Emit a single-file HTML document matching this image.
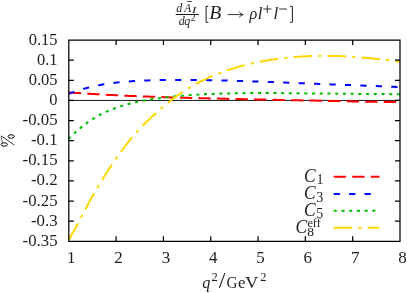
<!DOCTYPE html>
<html><head><meta charset="utf-8"><title>plot</title>
<style>html,body{margin:0;padding:0;background:#fff;}body{width:407px;height:293px;overflow:hidden;font-family:"Liberation Serif",serif;}</style>
</head><body>
<svg width="407" height="293" viewBox="0 0 407 293" style="display:block">
<rect width="407" height="293" fill="#fff"/>
<path d="M68.8,100.44 H400.0" stroke="#000" stroke-width="0.9" fill="none"/>
<path d="M69.1,92.4 L71.2,92.5 L73.3,92.7 L75.3,92.9 L77.4,93.0 L79.5,93.1 L81.6,93.3 L83.7,93.4 L85.7,93.6 L87.8,93.7 L89.9,93.8 L92.0,94.0 L94.1,94.1 L96.2,94.2 L98.2,94.3 L100.3,94.4 L102.4,94.6 L104.5,94.7 L106.6,94.8 L108.6,94.9 L110.7,95.0 L112.8,95.1 L114.9,95.2 L117.0,95.3 L119.0,95.4 L121.1,95.5 L123.2,95.6 L125.3,95.7 L127.4,95.8 L129.5,95.9 L131.5,96.0 L133.6,96.1 L135.7,96.1 L137.8,96.2 L139.9,96.3 L141.9,96.4 L144.0,96.5 L146.1,96.5 L148.2,96.6 L150.3,96.7 L152.3,96.8 L154.4,96.8 L156.5,96.9 L158.6,97.0 L160.7,97.0 L162.8,97.1 L164.8,97.2 L166.9,97.2 L169.0,97.3 L171.1,97.4 L173.2,97.4 L175.2,97.5 L177.3,97.6 L179.4,97.6 L181.5,97.7 L183.6,97.7 L185.6,97.8 L187.7,97.8 L189.8,97.9 L191.9,98.0 L194.0,98.0 L196.0,98.1 L198.1,98.1 L200.2,98.2 L202.3,98.2 L204.4,98.3 L206.5,98.3 L208.5,98.4 L210.6,98.4 L212.7,98.5 L214.8,98.5 L216.9,98.6 L218.9,98.6 L221.0,98.7 L223.1,98.7 L225.2,98.8 L227.3,98.8 L229.3,98.9 L231.4,98.9 L233.5,98.9 L235.6,99.0 L237.7,99.0 L239.8,99.1 L241.8,99.1 L243.9,99.2 L246.0,99.2 L248.1,99.3 L250.2,99.3 L252.2,99.4 L254.3,99.4 L256.4,99.4 L258.5,99.5 L260.6,99.5 L262.6,99.6 L264.7,99.6 L266.8,99.7 L268.9,99.7 L271.0,99.7 L273.1,99.8 L275.1,99.8 L277.2,99.9 L279.3,99.9 L281.4,100.0 L283.5,100.0 L285.5,100.0 L287.6,100.1 L289.7,100.1 L291.8,100.2 L293.9,100.2 L295.9,100.3 L298.0,100.3 L300.1,100.3 L302.2,100.4 L304.3,100.4 L306.3,100.5 L308.4,100.5 L310.5,100.6 L312.6,100.6 L314.7,100.6 L316.8,100.7 L318.8,100.7 L320.9,100.8 L323.0,100.8 L325.1,100.9 L327.2,100.9 L329.2,100.9 L331.3,101.0 L333.4,101.0 L335.5,101.1 L337.6,101.1 L339.6,101.1 L341.7,101.2 L343.8,101.2 L345.9,101.3 L348.0,101.3 L350.1,101.3 L352.1,101.4 L354.2,101.4 L356.3,101.5 L358.4,101.5 L360.5,101.5 L362.5,101.6 L364.6,101.6 L366.7,101.7 L368.8,101.7 L370.9,101.7 L372.9,101.8 L375.0,101.8 L377.1,101.8 L379.2,101.9 L381.3,101.9 L383.4,101.9 L385.4,102.0 L387.5,102.0 L389.6,102.0 L391.7,102.1 L393.8,102.1 L395.8,102.1 L397.9,102.2 L400.0,102.2" stroke="#ff0000" stroke-width="2" stroke-dasharray="12.36 6.18" stroke-dashoffset="0.3" fill="none"/>
<path d="M69.1,93.7 L71.2,92.9 L73.3,92.2 L75.3,91.4 L77.4,90.7 L79.5,90.1 L81.6,89.5 L83.7,88.9 L85.7,88.3 L87.8,87.7 L89.9,87.2 L92.0,86.7 L94.1,86.3 L96.2,85.8 L98.2,85.4 L100.3,85.0 L102.4,84.6 L104.5,84.3 L106.6,84.0 L108.6,83.6 L110.7,83.3 L112.8,83.1 L114.9,82.8 L117.0,82.6 L119.0,82.3 L121.1,82.1 L123.2,81.9 L125.3,81.7 L127.4,81.5 L129.5,81.4 L131.5,81.2 L133.6,81.1 L135.7,81.0 L137.8,80.8 L139.9,80.7 L141.9,80.6 L144.0,80.5 L146.1,80.4 L148.2,80.4 L150.3,80.3 L152.3,80.2 L154.4,80.2 L156.5,80.1 L158.6,80.1 L160.7,80.0 L162.8,80.0 L164.8,80.0 L166.9,79.9 L169.0,79.9 L171.1,79.9 L173.2,79.9 L175.2,79.9 L177.3,79.9 L179.4,79.9 L181.5,79.9 L183.6,79.9 L185.6,79.9 L187.7,79.9 L189.8,79.9 L191.9,79.9 L194.0,80.0 L196.0,80.0 L198.1,80.0 L200.2,80.0 L202.3,80.1 L204.4,80.1 L206.5,80.1 L208.5,80.2 L210.6,80.2 L212.7,80.3 L214.8,80.3 L216.9,80.3 L218.9,80.4 L221.0,80.4 L223.1,80.5 L225.2,80.6 L227.3,80.6 L229.3,80.7 L231.4,80.7 L233.5,80.8 L235.6,80.8 L237.7,80.9 L239.8,81.0 L241.8,81.0 L243.9,81.1 L246.0,81.2 L248.1,81.2 L250.2,81.3 L252.2,81.4 L254.3,81.5 L256.4,81.5 L258.5,81.6 L260.6,81.7 L262.6,81.8 L264.7,81.8 L266.8,81.9 L268.9,82.0 L271.0,82.1 L273.1,82.1 L275.1,82.2 L277.2,82.3 L279.3,82.4 L281.4,82.5 L283.5,82.5 L285.5,82.6 L287.6,82.7 L289.7,82.8 L291.8,82.9 L293.9,82.9 L295.9,83.0 L298.0,83.1 L300.1,83.2 L302.2,83.3 L304.3,83.3 L306.3,83.4 L308.4,83.5 L310.5,83.6 L312.6,83.7 L314.7,83.7 L316.8,83.8 L318.8,83.9 L320.9,84.0 L323.0,84.1 L325.1,84.2 L327.2,84.2 L329.2,84.3 L331.3,84.4 L333.4,84.5 L335.5,84.6 L337.6,84.6 L339.6,84.7 L341.7,84.8 L343.8,84.9 L345.9,85.0 L348.0,85.0 L350.1,85.1 L352.1,85.2 L354.2,85.3 L356.3,85.4 L358.4,85.4 L360.5,85.5 L362.5,85.6 L364.6,85.7 L366.7,85.7 L368.8,85.8 L370.9,85.9 L372.9,86.0 L375.0,86.1 L377.1,86.1 L379.2,86.2 L381.3,86.3 L383.4,86.4 L385.4,86.5 L387.5,86.5 L389.6,86.6 L391.7,86.7 L393.8,86.8 L395.8,86.9 L397.9,86.9 L400.0,87.0" stroke="#0000ff" stroke-width="2" stroke-dasharray="6.18 9.27" stroke-dashoffset="0.6" fill="none"/>
<path d="M69.1,138.6 L71.2,136.4 L73.3,134.4 L75.3,132.4 L77.4,130.5 L79.5,128.7 L81.6,126.9 L83.7,125.3 L85.7,123.7 L87.8,122.2 L89.9,120.8 L92.0,119.5 L94.1,118.2 L96.2,117.0 L98.2,115.8 L100.3,114.7 L102.4,113.6 L104.5,112.6 L106.6,111.6 L108.6,110.7 L110.7,109.9 L112.8,109.0 L114.9,108.3 L117.0,107.5 L119.0,106.8 L121.1,106.1 L123.2,105.5 L125.3,104.9 L127.4,104.3 L129.5,103.7 L131.5,103.2 L133.6,102.7 L135.7,102.2 L137.8,101.8 L139.9,101.3 L141.9,100.9 L144.0,100.5 L146.1,100.1 L148.2,99.8 L150.3,99.4 L152.3,99.1 L154.4,98.8 L156.5,98.5 L158.6,98.2 L160.7,97.9 L162.8,97.7 L164.8,97.4 L166.9,97.2 L169.0,96.9 L171.1,96.7 L173.2,96.5 L175.2,96.3 L177.3,96.1 L179.4,95.9 L181.5,95.7 L183.6,95.6 L185.6,95.4 L187.7,95.2 L189.8,95.1 L191.9,94.9 L194.0,94.8 L196.0,94.7 L198.1,94.6 L200.2,94.4 L202.3,94.3 L204.4,94.2 L206.5,94.1 L208.5,94.0 L210.6,94.0 L212.7,93.9 L214.8,93.8 L216.9,93.7 L218.9,93.7 L221.0,93.6 L223.1,93.5 L225.2,93.5 L227.3,93.4 L229.3,93.4 L231.4,93.3 L233.5,93.3 L235.6,93.3 L237.7,93.2 L239.8,93.2 L241.8,93.2 L243.9,93.2 L246.0,93.1 L248.1,93.1 L250.2,93.1 L252.2,93.1 L254.3,93.1 L256.4,93.1 L258.5,93.1 L260.6,93.1 L262.6,93.1 L264.7,93.1 L266.8,93.1 L268.9,93.1 L271.0,93.1 L273.1,93.1 L275.1,93.1 L277.2,93.1 L279.3,93.1 L281.4,93.1 L283.5,93.2 L285.5,93.2 L287.6,93.2 L289.7,93.2 L291.8,93.2 L293.9,93.2 L295.9,93.3 L298.0,93.3 L300.1,93.3 L302.2,93.3 L304.3,93.3 L306.3,93.4 L308.4,93.4 L310.5,93.4 L312.6,93.4 L314.7,93.4 L316.8,93.5 L318.8,93.5 L320.9,93.5 L323.0,93.5 L325.1,93.5 L327.2,93.6 L329.2,93.6 L331.3,93.6 L333.4,93.6 L335.5,93.6 L337.6,93.7 L339.6,93.7 L341.7,93.7 L343.8,93.7 L345.9,93.7 L348.0,93.8 L350.1,93.8 L352.1,93.8 L354.2,93.8 L356.3,93.8 L358.4,93.9 L360.5,93.9 L362.5,93.9 L364.6,93.9 L366.7,93.9 L368.8,93.9 L370.9,94.0 L372.9,94.0 L375.0,94.0 L377.1,94.0 L379.2,94.0 L381.3,94.1 L383.4,94.1 L385.4,94.1 L387.5,94.1 L389.6,94.1 L391.7,94.2 L393.8,94.2 L395.8,94.2 L397.9,94.2 L400.0,94.3" stroke="#00c000" stroke-width="2" stroke-dasharray="3.09 4.63" stroke-dashoffset="0.7" fill="none"/>
<path d="M68.5,241.3 L70.6,236.5 L72.7,232.8 L74.8,229.3 L76.8,225.6 L78.9,221.6 L81.0,217.6 L83.1,213.5 L85.2,209.6 L87.3,205.7 L89.3,201.9 L91.4,198.1 L93.5,194.4 L95.6,190.8 L97.7,187.3 L99.8,183.8 L101.9,180.4 L103.9,177.0 L106.0,173.7 L108.1,170.4 L110.2,167.2 L112.3,164.1 L114.4,161.0 L116.5,158.0 L118.5,155.0 L120.6,152.1 L122.7,149.3 L124.8,146.5 L126.9,143.8 L129.0,141.2 L131.0,138.7 L133.1,136.2 L135.2,133.8 L137.3,131.5 L139.4,129.2 L141.5,127.0 L143.6,124.8 L145.6,122.7 L147.7,120.7 L149.8,118.7 L151.9,116.7 L154.0,114.8 L156.1,112.9 L158.2,111.0 L160.2,109.1 L162.3,107.3 L164.4,105.6 L166.5,103.8 L168.6,102.2 L170.7,100.5 L172.7,98.9 L174.8,97.4 L176.9,95.9 L179.0,94.4 L181.1,93.0 L183.2,91.6 L185.3,90.2 L187.3,88.9 L189.4,87.7 L191.5,86.5 L193.6,85.3 L195.7,84.1 L197.8,83.0 L199.8,81.9 L201.9,80.8 L204.0,79.8 L206.1,78.8 L208.2,77.9 L210.3,76.9 L212.4,76.0 L214.4,75.1 L216.5,74.3 L218.6,73.5 L220.7,72.7 L222.8,71.9 L224.9,71.1 L227.0,70.4 L229.0,69.7 L231.1,69.0 L233.2,68.4 L235.3,67.7 L237.4,67.1 L239.5,66.5 L241.5,66.0 L243.6,65.4 L245.7,64.9 L247.8,64.4 L249.9,63.9 L252.0,63.4 L254.1,62.9 L256.1,62.5 L258.2,62.1 L260.3,61.7 L262.4,61.3 L264.5,60.9 L266.6,60.5 L268.7,60.2 L270.7,59.8 L272.8,59.5 L274.9,59.2 L277.0,58.9 L279.1,58.7 L281.2,58.4 L283.2,58.2 L285.3,57.9 L287.4,57.7 L289.5,57.5 L291.6,57.3 L293.7,57.1 L295.8,56.9 L297.8,56.8 L299.9,56.6 L302.0,56.5 L304.1,56.4 L306.2,56.3 L308.3,56.2 L310.3,56.1 L312.4,56.0 L314.5,55.9 L316.6,55.9 L318.7,55.9 L320.8,55.8 L322.9,55.8 L324.9,55.8 L327.0,55.8 L329.1,55.8 L331.2,55.9 L333.3,55.9 L335.4,55.9 L337.5,56.0 L339.5,56.1 L341.6,56.2 L343.7,56.3 L345.8,56.4 L347.9,56.5 L350.0,56.6 L352.0,56.7 L354.1,56.9 L356.2,57.0 L358.3,57.2 L360.4,57.3 L362.5,57.5 L364.6,57.7 L366.6,57.9 L368.7,58.1 L370.8,58.3 L372.9,58.5 L375.0,58.7 L377.1,58.9 L379.2,59.2 L381.2,59.4 L383.3,59.6 L385.4,59.9 L387.5,60.1 L389.6,60.4 L391.7,60.6 L393.7,60.9 L395.8,61.1 L397.9,61.4 L400.0,61.6" stroke="#ffd700" stroke-width="2" stroke-dasharray="18.54 6.18 3.09 6.18" stroke-dashoffset="-1.9" fill="none"/>
<path d="M68.8,40.05 H400.0 V241.35 H68.8 Z M68.8,60.18 h5.0 M400.0,60.18 h-5.0 M68.8,80.31 h5.0 M400.0,80.31 h-5.0 M68.8,100.44 h5.0 M400.0,100.44 h-5.0 M68.8,120.57 h5.0 M400.0,120.57 h-5.0 M68.8,140.70 h5.0 M400.0,140.70 h-5.0 M68.8,160.83 h5.0 M400.0,160.83 h-5.0 M68.8,180.96 h5.0 M400.0,180.96 h-5.0 M68.8,201.09 h5.0 M400.0,201.09 h-5.0 M68.8,221.22 h5.0 M400.0,221.22 h-5.0 M116.11,241.35 v-5.0 M116.11,40.05 v5.0 M163.43,241.35 v-5.0 M163.43,40.05 v5.0 M210.74,241.35 v-5.0 M210.74,40.05 v5.0 M258.06,241.35 v-5.0 M258.06,40.05 v5.0 M305.37,241.35 v-5.0 M305.37,40.05 v5.0 M352.69,241.35 v-5.0 M352.69,40.05 v5.0" stroke="#000" stroke-width="1.25" fill="none" stroke-linejoin="miter"/>
<g font-family="Liberation Serif, serif" font-size="17" fill="#1e1e1e" opacity="0.999">
<text transform="translate(28.74,44.55) scale(0.9700,1.0000)" font-size="17">0.15</text>
<text transform="translate(36.99,64.68) scale(0.9700,1.0000)" font-size="17">0.1</text>
<text transform="translate(28.74,84.81) scale(0.9700,1.0000)" font-size="17">0.05</text>
<text transform="translate(49.36,104.94) scale(0.9700,1.0000)" font-size="17">0</text>
<text transform="translate(22.54,125.07) scale(0.9900,1.0000)" font-size="17">-0.05</text>
<text transform="translate(30.96,145.20) scale(0.9900,1.0000)" font-size="17">-0.1</text>
<text transform="translate(22.54,165.33) scale(0.9900,1.0000)" font-size="17">-0.15</text>
<text transform="translate(30.96,185.46) scale(0.9900,1.0000)" font-size="17">-0.2</text>
<text transform="translate(22.54,205.59) scale(0.9900,1.0000)" font-size="17">-0.25</text>
<text transform="translate(30.96,225.72) scale(0.9900,1.0000)" font-size="17">-0.3</text>
<text transform="translate(22.54,245.85) scale(0.9900,1.0000)" font-size="17">-0.35</text>
<text x="67.05" y="263.20" font-size="17">1</text>
<text x="114.36" y="263.20" font-size="17">2</text>
<text x="161.68" y="263.20" font-size="17">3</text>
<text x="208.99" y="263.20" font-size="17">4</text>
<text x="256.31" y="263.20" font-size="17">5</text>
<text x="303.62" y="263.20" font-size="17">6</text>
<text x="350.94" y="263.20" font-size="17">7</text>
<text x="398.25" y="263.20" font-size="17">8</text>
<text transform="translate(202.20,287.60) scale(0.9529,1.0000)" font-size="17" font-style="italic">q</text>
<text x="211.60" y="280.60" font-size="12.5">2</text>
<text transform="translate(218.70,287.60) scale(1.4177,1.3389)" font-size="17">/</text>
<text transform="translate(226.50,287.60) scale(0.8962,1.0000)" font-size="17">G</text>
<text x="238.00" y="287.60" font-size="17">e</text>
<text transform="translate(245.30,287.60) scale(1.0591,1.0000)" font-size="17">V</text>
<text x="260.30" y="280.60" font-size="12.5">2</text>
<g stroke="#000" fill="none"><ellipse cx="11.2" cy="136.5" rx="3.1" ry="1.75" stroke-width="1.0"/><ellipse cx="4.3" cy="144.5" rx="3.1" ry="1.75" stroke-width="1.0"/><path d="M1.1,135.8 L14.3,145" stroke-width="0.8"/><path d="M1.2,136 Q1.6,140 2.4,142.9" stroke-width="0.6"/></g>
<path d="M333.7,176.8 H379.5" stroke="#ff0000" stroke-width="2" stroke-dasharray="12.36 6.18" fill="none"/>
<text transform="translate(304.00,181.60) scale(1.0253,1.0929)" font-size="17" font-style="italic">C</text>
<text x="316.50" y="184.40" font-size="14">1</text>
<path d="M333.7,193.9 H379.5" stroke="#0000ff" stroke-width="2" stroke-dasharray="6.18 9.27" fill="none"/>
<text transform="translate(304.00,198.70) scale(1.0253,1.0929)" font-size="17" font-style="italic">C</text>
<text x="316.30" y="201.50" font-size="14">3</text>
<path d="M333.7,210.8 H379.5" stroke="#00c000" stroke-width="2" stroke-dasharray="3.09 4.63" fill="none"/>
<text transform="translate(304.00,215.60) scale(1.0253,1.0929)" font-size="17" font-style="italic">C</text>
<text x="316.30" y="218.40" font-size="14">5</text>
<path d="M333.7,227.8 H379.5" stroke="#ffd700" stroke-width="2" stroke-dasharray="18.54 6.18 3.09 6.18" fill="none"/>
<text transform="translate(295.40,232.60) scale(1.0253,1.0929)" font-size="17" font-style="italic">C</text>
<text x="307.30" y="236.40" font-size="13.5">8</text>
<text transform="translate(307.40,227.00) scale(1.0217,1.0000)" font-size="12">eff</text>
<text x="176.30" y="11.70" font-size="12" font-style="italic">d</text>
<text transform="translate(184.22,11.70) scale(0.9453,1.0000)" font-size="12" font-style="italic">A</text>
<text transform="translate(191.86,13.30) scale(1.6227,1.0000)" font-size="8.5" font-style="italic">I</text>
<path d="M187.2,1.5 H191.7" stroke="#000" stroke-width="0.8"/>
<path d="M175.7,14.5 H198.8" stroke="#000" stroke-width="0.9"/>
<text x="178.70" y="24.90" font-size="12" font-style="italic">d</text>
<text x="184.30" y="24.90" font-size="12" font-style="italic">q</text>
<text x="190.80" y="21.20" font-size="9.5">2</text>
<path d="M208.3,6.4 H206.1 V22.3 H208.3" stroke="#000" stroke-width="0.9" fill="none"/>
<text transform="translate(209.20,18.80) scale(1.1553,1.0507)" font-size="17" font-style="italic">B</text>
<path d="M227.6,14.6 H242.6" stroke="#000" stroke-width="0.8" fill="none"/>
<path d="M239.2,11.6 C240,13.4 241.6,14.3 243.3,14.6 C241.6,14.9 240,15.8 239.2,17.6" stroke="#000" stroke-width="0.8" fill="none"/>
<text transform="translate(249.52,18.80) scale(0.9533,1.0000)" font-size="17" font-style="italic">ρ</text>
<text transform="translate(257.80,18.80) scale(1.0000,1.0171)" font-size="17" font-style="italic">l</text>
<path d="M263.2,9 H271.4 M267.3,5.1 V12.9" stroke="#000" stroke-width="0.8"/>
<text transform="translate(273.60,18.80) scale(1.0000,1.0171)" font-size="17" font-style="italic">l</text>
<path d="M279.2,9 H287" stroke="#000" stroke-width="0.8"/>
<path d="M290.2,6.4 H292.4 V22.3 H290.2" stroke="#000" stroke-width="0.9" fill="none"/>
</g>
</svg>
</body></html>
